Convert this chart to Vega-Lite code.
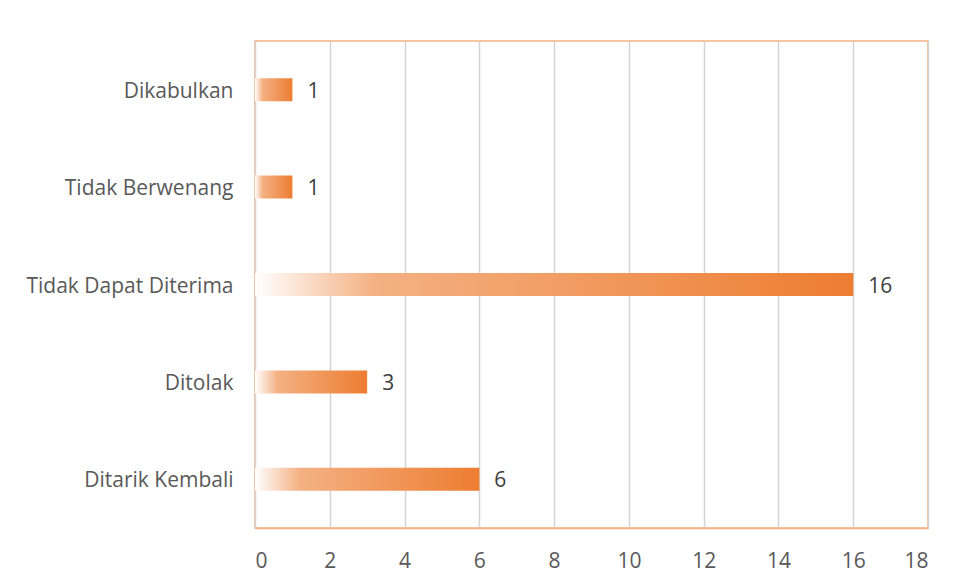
{
  "$schema": "https://vega.github.io/schema/vega-lite/v6.json",
  "autosize": "none",
  "padding": {"left": 255, "top": 41, "right": 27, "bottom": 55},
  "width": 673,
  "height": 487,
  "background": "white",
  "config": {
    "view": {"stroke": "#F4B183", "strokeWidth": 1.5},
    "font": "Open Sans"
  },
  "data": {
    "values": [
      {"kategori": "Dikabulkan", "jumlah": 1},
      {"kategori": "Tidak Berwenang", "jumlah": 1},
      {"kategori": "Tidak Dapat Diterima", "jumlah": 16},
      {"kategori": "Ditolak", "jumlah": 3},
      {"kategori": "Ditarik Kembali", "jumlah": 6}
    ]
  },
  "encoding": {
    "y": {
      "field": "kategori",
      "type": "nominal",
      "sort": null,
      "scale": {"paddingInner": 0.764, "paddingOuter": 0.382},
      "axis": {
        "title": null,
        "ticks": false,
        "domain": false,
        "labelFontSize": 21,
        "labelColor": "#595959",
        "labelPadding": 22,
        "labelOffset": 2,
        "labelLimit": 400,
        "labelFont": "Open Sans"
      }
    },
    "x": {
      "field": "jumlah",
      "type": "quantitative",
      "scale": {"domain": [0, 18], "nice": false},
      "axis": {
        "title": null,
        "values": [0, 2, 4, 6, 8, 10, 12, 14, 16, 18],
        "ticks": false,
        "domainColor": "#F4B183",
        "domainWidth": 1.5,
        "gridColor": "#D4D4D4",
        "gridWidth": 1.5,
        "labelFontSize": 21,
        "labelColor": "#595959",
        "labelPadding": 22,
        "labelFont": "Open Sans"
      }
    }
  },
  "layer": [
    {
      "mark": {
        "type": "bar",
        "fill": {
          "gradient": "linear",
          "x1": 0, "y1": 0, "x2": 1, "y2": 0,
          "stops": [
            {"offset": 0, "color": "#FFFFFF"},
            {"offset": 0.2, "color": "#F4B183"},
            {"offset": 1, "color": "#ED7D31"}
          ]
        }
      }
    },
    {
      "mark": {
        "type": "text",
        "align": "left",
        "baseline": "middle",
        "dx": 15,
        "dy": 2,
        "fontSize": 21,
        "color": "#404040",
        "font": "Open Sans"
      },
      "encoding": {"text": {"field": "jumlah", "type": "quantitative"}}
    }
  ]
}
